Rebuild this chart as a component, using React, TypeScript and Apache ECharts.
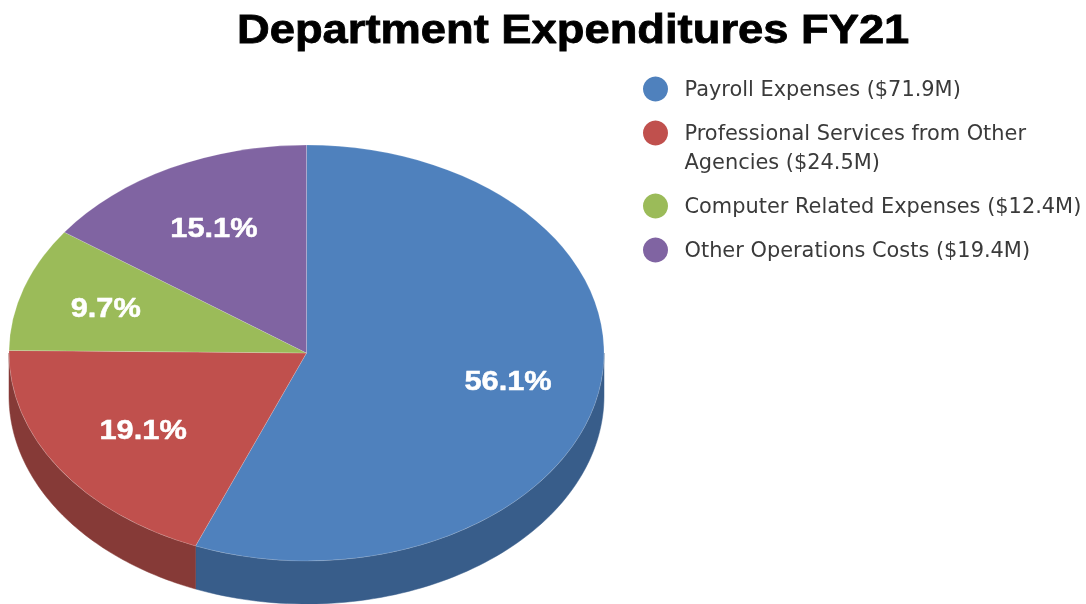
import React, { useEffect, useRef } from "react";
import * as echarts from "echarts";

const titleText = "Department Expenditures FY21";
const categories = [
  "Payroll Expenses ($71.9M)",
  "Professional Services from Other Agencies ($24.5M)",
  "Computer Related Expenses ($12.4M)",
  "Other Operations Costs ($19.4M)",
];
const values = [71.9, 24.5, 12.4, 19.4];
const percentLabels = ["56.1%", "19.1%", "9.7%", "15.1%"];
const topColors = ["#4F81BD", "#C0504D", "#9BBB59", "#8064A2"];
const wallColors = ["#385D8A", "#863A37", "#6D8340", "#5A4772"];
const labelRadii = [0.69, 0.66, 0.71, 0.68];

const CX = 306.5, CY = 353, RX = 297.5, RY = 208, DEPTH = 43;
const total = values.reduce((a, b) => a + b, 0);

function sliceAngles(i: number) {
  const before = values.slice(0, i).reduce((a, b) => a + b, 0);
  const start = -Math.PI / 2 + (before / total) * Math.PI * 2;
  const end = start + (values[i] / total) * Math.PI * 2;
  return [start, end];
}

function renderSlice(i: number) {
  return () => {
    const [start, end] = sliceAngles(i);
    const children: any[] = [];
    const a0 = Math.max(start, 0);
    const a1 = Math.min(end, Math.PI);
    if (a1 > a0) {
      const n = 80;
      const upper: number[][] = [];
      const lower: number[][] = [];
      for (let k = 0; k <= n; k++) {
        const a = a0 + ((a1 - a0) * k) / n;
        const x = CX + RX * Math.cos(a);
        const y = CY + RY * Math.sin(a);
        upper.push([x, y]);
        lower.unshift([x, y + DEPTH]);
      }
      children.push({
        type: "polygon",
        shape: { points: upper.concat(lower) },
        style: { fill: wallColors[i], stroke: wallColors[i], lineWidth: 0.5 },
      });
    }
    children.push({
      type: "sector",
      x: CX,
      y: CY,
      scaleY: RY / RX,
      shape: { cx: 0, cy: 0, r0: 0, r: RX, startAngle: start, endAngle: end, clockwise: true },
      style: { fill: topColors[i], stroke: "rgba(255,255,255,0.2)", lineWidth: 1 },
    });
    const mid = (start + end) / 2;
    children.push({
      type: "text",
      x: CX + RX * labelRadii[i] * Math.cos(mid),
      y: CY + RY * labelRadii[i] * Math.sin(mid),
      scaleX: 1.12,
      style: {
        text: percentLabels[i],
        fill: "#fff",
        stroke: "#fff",
        lineWidth: 0.5,
        font: 'bold 27.5px "Liberation Sans"',
        align: "center",
        verticalAlign: "middle",
      },
    });
    return { type: "group", children };
  };
}

const legendBase = {
  orient: "vertical",
  left: 638,
  itemWidth: 48,
  itemHeight: 25,
  icon: "circle",
  itemGap: 15,
  textStyle: { fontFamily: "DejaVu Sans", fontSize: 20.9, color: "#3a3a3a", lineHeight: 29 },
};

export default function App() {
  const ref = useRef<HTMLDivElement>(null);
  useEffect(() => {
    const chart = echarts.init(ref.current!, null, { renderer: "svg" });
    chart.setOption({
      animation: false,
      graphic: [
        {
          type: "text",
          x: 237,
          y: 29,
          scaleX: 1.133,
          style: {
            text: titleText,
            fill: "#000",
            stroke: "#000",
            lineWidth: 0.8,
            font: 'bold 40px "Liberation Sans"',
            align: "left",
            verticalAlign: "middle",
          },
        },
      ],
      legend: [
        { ...legendBase, top: 69.5, data: [categories[0]] },
        {
          ...legendBase,
          top: 84.5,
          data: [categories[1]],
          formatter: () => "\nProfessional Services from Other\nAgencies ($24.5M)",
        },
        { ...legendBase, top: 186.5, data: [categories[2], categories[3]] },
      ],
      series: categories.map((name, i) => ({
        type: "custom",
        name,
        coordinateSystem: "none",
        silent: true,
        itemStyle: { color: topColors[i] },
        data: [[values[i]]],
        renderItem: renderSlice(i),
      })),
    });
    return () => chart.dispose();
  }, []);
  return <div ref={ref} style={{ position: "fixed", left: 0, top: 0, width: 1086, height: 604 }} />;
}
